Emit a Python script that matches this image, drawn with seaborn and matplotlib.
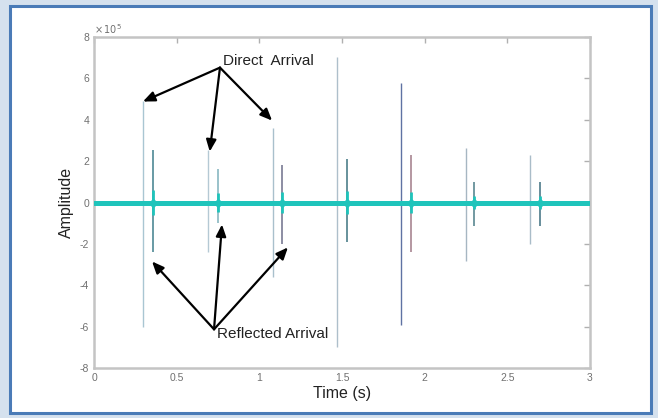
import matplotlib
matplotlib.use("Agg")
import matplotlib.pyplot as plt
import seaborn as sns
import pandas as pd
from matplotlib.patches import Rectangle

# ---- data ----
direct_t = [0.296, 0.69, 1.08, 1.47, 1.857, 2.25, 2.64]
direct_top = [4.9, 2.56, 3.6, 7.05, 5.8, 2.65, 2.3]
direct_bot = [-6.0, -2.4, -3.6, -7.0, -5.9, -2.85, -2.0]
direct_col = ["#a9c6d2", "#b5c9d4", "#a9c0cc", "#aebfcb", "#5f72a3", "#a6b6c2", "#a9bcc8"]

refl_t = [0.357, 0.75, 1.14, 1.53, 1.92, 2.30, 2.70]
refl_top = [2.56, 1.6, 1.8, 2.1, 2.3, 1.0, 1.0]
refl_bot = [-2.4, -1.0, -2.0, -1.9, -2.4, -1.15, -1.15]
refl_col = ["#3f7f8c", "#7fb2bc", "#6d6f8a", "#3d7480", "#a07a88", "#4b7d88", "#3d6f80"]
refl_core = [0.6, 0.45, 0.5, 0.55, 0.5, 0.3, 0.3]

base_t = [0.0, 3.0]
base_amp = [0.0, 0.0]

xticks = [0, 0.5, 1, 1.5, 2, 2.5, 3]
xticklabels = ["0", "0.5", "1", "1.5", "2", "2.5", "3"]
yticks = [-8, -6, -4, -2, 0, 2, 4, 6, 8]

direct_label = "Direct  Arrival"
direct_origin = (0.762, 6.52)
direct_targets = [(0.296, 4.88), (0.70, 2.46), (1.077, 3.96)]
refl_label = "Reflected Arrival"
refl_origin = (0.726, -6.13)
refl_targets = [(0.351, -2.85), (0.774, -1.06), (1.173, -2.17)]

# ---- figure ----
sns.set_style("white")
plt.rcParams["font.family"] = ["Liberation Sans", "DejaVu Sans"]
plt.rcParams["axes.unicode_minus"] = False

fig = plt.figure(figsize=(6.58, 4.18), dpi=100)
fig.patch.set_facecolor("#d5e1ee")
# white panel with blue frame
fig.patches.append(Rectangle((10 / 658, 1 - 413 / 418), 641 / 658, 407 / 418,
                             transform=fig.transFigure, facecolor="white",
                             edgecolor="#4a7bb7", linewidth=2.2, zorder=-5))

ax = fig.add_axes([94 / 658, 1 - 368 / 418, 496 / 658, 331 / 418])
ax.set_zorder(5)
ax.set_facecolor("white")

# direct arrivals (thin light lines)
ax.vlines(direct_t, direct_bot, direct_top, colors=direct_col, linewidth=1.0, zorder=2)
# reflected arrivals
ax.vlines(refl_t, refl_bot, refl_top, colors=refl_col, linewidth=1.1, zorder=3)

# baseline noise band
df_base = pd.DataFrame({"t": base_t, "amp": base_amp})
sns.lineplot(data=df_base, x="t", y="amp", ax=ax, color="#1fc4bb",
             linewidth=3.6, zorder=4, estimator=None)

# cyan cores of reflected arrivals
ax.vlines(refl_t, [-c for c in refl_core], refl_core, colors="#1fc4bb",
          linewidth=2.0, zorder=5)
ax.plot(refl_t, [0] * len(refl_t), "D", color="#1fc4bb", markersize=4.5, zorder=5)

ax.set_xlim(0, 3)
ax.set_ylim(-8, 8)
ax.set_xticks(xticks)
ax.set_xticklabels(xticklabels)
ax.set_yticks(yticks)
ax.tick_params(direction="in", length=4, width=1, colors="#b0b0b0",
               labelcolor="#707070", labelsize=7.5, top=True, right=True,
               labelright=False, labeltop=False)
for s in ax.spines.values():
    s.set_visible(True)
    s.set_color("#c4c4c4")
    s.set_linewidth(1.8)

ax.set_xlabel("Time (s)", fontsize=11.5, color="#222222", labelpad=2)
ax.set_ylabel("Amplitude", fontsize=11.5, color="#222222", labelpad=4)
ax.text(0.0, 8.05, r"$\times\,10^{5}$", fontsize=7, color="#707070",
        ha="left", va="bottom")

# annotations
ap = dict(arrowstyle="-|>,head_length=0.7,head_width=0.3", color="black", lw=1.6,
          shrinkA=0, shrinkB=0)
ax.text(direct_origin[0] + 0.02, direct_origin[1] + 0.3, direct_label,
        fontsize=11, color="#222222", ha="left", va="center", zorder=7)
for tgt in direct_targets:
    ax.annotate("", xy=tgt, xytext=direct_origin, arrowprops=ap, zorder=6)
ax.text(refl_origin[0] + 0.02, refl_origin[1] - 0.25, refl_label,
        fontsize=11, color="#222222", ha="left", va="center", zorder=7)
for tgt in refl_targets:
    ax.annotate("", xy=tgt, xytext=refl_origin, arrowprops=ap, zorder=6)

fig.savefig("out.png", dpi=100, facecolor=fig.get_facecolor())
